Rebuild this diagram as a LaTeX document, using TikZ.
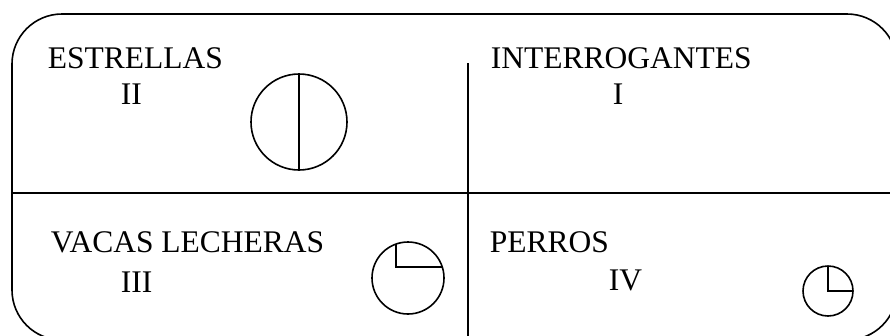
\documentclass[tikz,border=0pt]{standalone}
\usepackage{fontspec}
\setmainfont{Liberation Serif}
\usetikzlibrary{positioning, calc}

\begin{document}
\begin{tikzpicture}[
  x=1pt, y=-1pt,
  line width=1.6pt,
  every node/.style={font=\fontsize{31.5}{36}\selectfont},
  label/.style={anchor=base west, inner sep=0pt},
  pie/.style={circle, draw, inner sep=0pt, outer sep=0pt}
]
  \clip (0,0) rectangle (890,335);

  % frame and quadrants
  \draw[rounded corners=50pt] (12,14) rectangle (897,340);
  \draw (12,193) coordinate (hl) -- (897,193) coordinate (hr);
  \draw (468,63) coordinate (vt) -- (468,340) coordinate (vb);

  % quadrant labels
  \node[label] (estrellas) at (47,68)  {ESTRELLAS};
  \node[label] (q2)        at (120,104) {II};
  \node[label] (interrog)  at (490,68)  {INTERROGANTES};
  \node[label] (q1)        at (612,104) {I};
  \node[label] (vacas)     at (50,252)  {VACAS LECHERAS};
  \node[label] (q3)        at (120,292) {III};
  \node[label] (perros)    at (489,252) {PERROS};
  \node[label] (q4)        at (608,290) {IV};

  % share circles
  \node[pie, minimum size=96pt] (cestr) at (299,122) {};
  \draw (cestr.north) -- (cestr.south);

  \node[pie, minimum size=72pt] (cvaca) at (408,278) {};
  \draw (cvaca.109) |- (cvaca.18);

  \node[pie, minimum size=50pt] (cperr) at (828,291) {};
  \draw (cperr.north) -- (cperr.center) -- (cperr.east);
\end{tikzpicture}
\end{document}
